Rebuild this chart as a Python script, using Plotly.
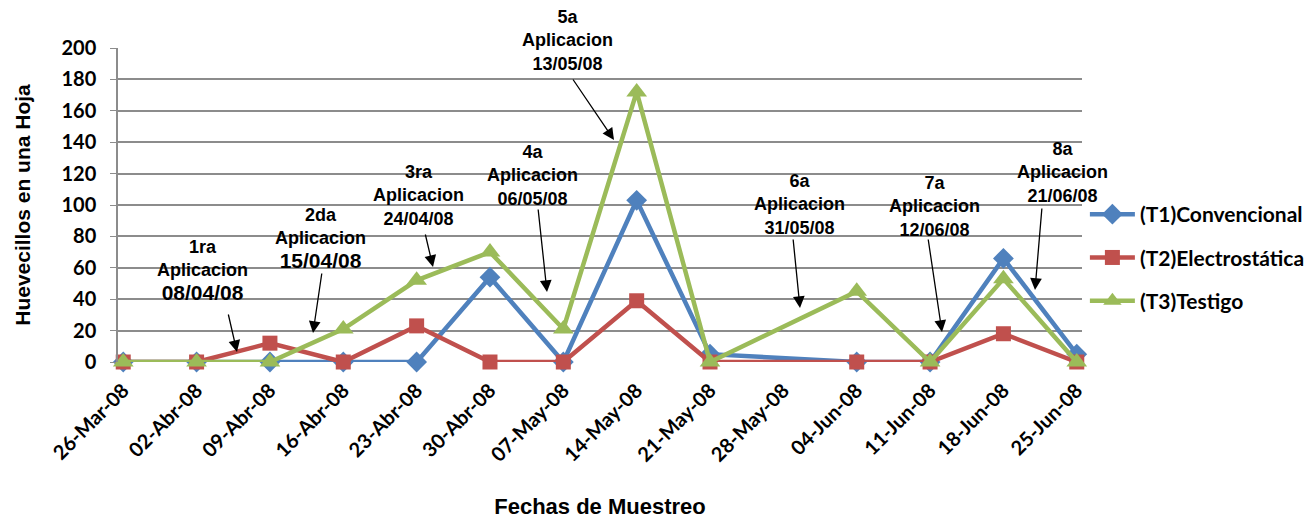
import plotly.graph_objects as go

# sampling dates and counts (eggs per leaf)
fechas = ["2008-03-26", "2008-04-02", "2008-04-09", "2008-04-16", "2008-04-23",
          "2008-04-30", "2008-05-07", "2008-05-14", "2008-05-21", "2008-06-04",
          "2008-06-11", "2008-06-18", "2008-06-25"]
t1_convencional = [0, 0, 0, 0, 0, 54, 0, 103, 5, 0, 0, 66, 5]
t2_electrostatica = [0, 0, 12, 0, 23, 0, 0, 39, 0, 0, 0, 18, 0]
t3_testigo = [0, 0, 0, 21, 52, 70, 21, 172, 0, 45, 0, 53, 0]

tick_fechas = ["2008-03-26", "2008-04-02", "2008-04-09", "2008-04-16", "2008-04-23",
               "2008-04-30", "2008-05-07", "2008-05-14", "2008-05-21", "2008-05-28",
               "2008-06-04", "2008-06-11", "2008-06-18", "2008-06-25"]
tick_labels = ["26-Mar-08", "02-Abr-08", "09-Abr-08", "16-Abr-08", "23-Abr-08",
               "30-Abr-08", "07-May-08", "14-May-08", "21-May-08", "28-May-08",
               "04-Jun-08", "11-Jun-08", "18-Jun-08", "25-Jun-08"]

aplicaciones = ["1ra<br>Aplicacion<br><span style='font-size:21px'>08/04/08</span>",
                "2da<br>Aplicacion<br><span style='font-size:21px'>15/04/08</span>",
                "3ra<br>Aplicacion<br>24/04/08",
                "4a<br>Aplicacion<br>06/05/08",
                "5a<br>Aplicacion<br>13/05/08",
                "6a<br>Aplicacion<br>31/05/08",
                "7a<br>Aplicacion<br>12/06/08",
                "8a<br>Aplicacion<br>21/06/08"]

# plot area in pixels
L, R, T, B = 118, 1082, 48, 362
W, H = 1310, 519


def to_paper(x, y):
    return (x - L) / (R - L), (B - y) / (B - T)


text_pos = [(202, 270), (320, 238), (418, 195), (532, 175),
            (567, 41), (799, 204), (934, 206), (1062, 172)]
arrows = [((237, 352), (228, 313)), ((313, 333), (322, 272)),
          ((433, 267), (425, 233)), ((547, 292), (538, 208)),
          ((614, 140), (572, 78)), ((800, 308), (793, 238)),
          ((942, 332), (928, 238)), ((1035, 290), (1042, 207))]

fig = go.Figure()
series = [("(T1)Convencional", t1_convencional, "#4F81BD", "diamond", 16),
          ("(T2)Electrostática", t2_electrostatica, "#C0504D", "square", 15),
          ("(T3)Testigo", t3_testigo, "#9BBB59", "triangle-up", 18)]
for name, vals, color, sym, size in series:
    fig.add_trace(go.Scatter(x=fechas, y=vals, name=name, mode="lines+markers",
                             legendgroup=name, cliponaxis=False,
                             line=dict(color=color, width=4.5),
                             marker=dict(symbol=sym, size=size, color=color)))

annotations = []
for txt, (x, y) in zip(aplicaciones, text_pos):
    px, py = to_paper(x, y)
    annotations.append(dict(x=px, y=py, xref="paper", yref="paper", text=txt,
                            xanchor="center", yanchor="middle",
                            showarrow=False, align="center",
                            font=dict(family="Liberation Sans", size=18, color="black", weight="bold")))
for (hx, hy), (tx, ty) in arrows:
    px, py = to_paper(hx, hy)
    annotations.append(dict(x=px, y=py, xref="paper", yref="paper", text="",
                            showarrow=True, ax=tx - hx, ay=ty - hy,
                            arrowhead=2, arrowsize=1.8, arrowwidth=1.3, arrowcolor="black"))

fig.update_layout(
    width=W, height=H,
    margin=dict(l=L, r=W - R, t=T, b=H - B, autoexpand=False),
    plot_bgcolor="white", paper_bgcolor="white",
    annotations=annotations,
    legend=dict(x=1.003, y=0.535, xanchor="left", yanchor="top",
                tracegroupgap=13, itemwidth=45,
                font=dict(family="Lato", size=21, color="black", weight="bold")),
    xaxis=dict(type="date", range=["2008-03-25 12:00", "2008-06-25 12:00"],
               tickvals=tick_fechas, ticktext=tick_labels, tickangle=-45,
               showgrid=False, showline=False, zeroline=False, automargin=False,
               ticklabelstandoff=12,
               tickfont=dict(family="Lato", size=20, color="black", weight="bold"),
               title=dict(text="Fechas de Muestreo", standoff=36,
                          font=dict(family="Liberation Sans", size=22, color="black", weight="bold"))),
    yaxis=dict(range=[0, 200], dtick=20, showgrid=True, gridcolor="#8C8C8C", gridwidth=1.5,
               showline=True, linecolor="#8C8C8C", linewidth=1.5, automargin=False,
               ticks="outside", ticklen=6, tickcolor="#8C8C8C", zeroline=False,
               ticklabelstandoff=10,
               tickfont=dict(family="Lato", size=20, color="black", weight="bold"),
               title=dict(text="Huevecillos en una Hoja", standoff=25,
                          font=dict(family="Liberation Sans", size=21, color="black", weight="bold"))),
)

fig.write_html("out.html", config={"displayModeBar": False},
               post_script="document.body.style.margin='0';")
